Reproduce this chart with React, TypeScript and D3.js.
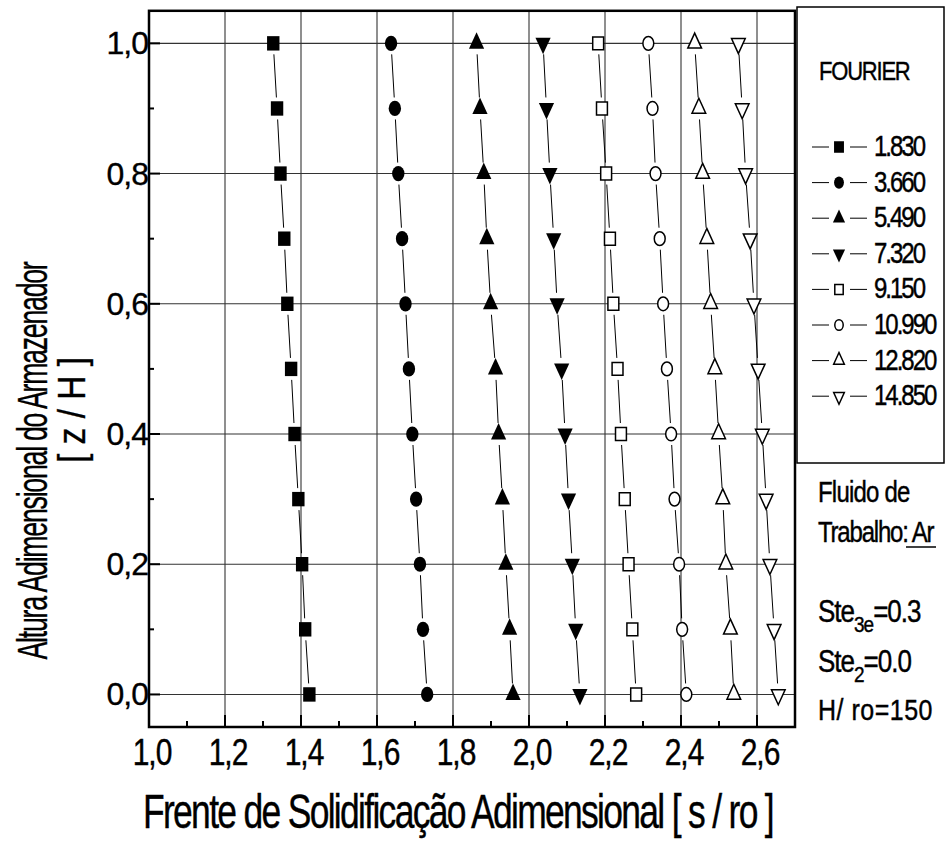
import React from 'react';
import * as d3 from 'd3';

// z / H levels where the front was evaluated
const heights = [0, 0.1, 0.2, 0.3, 0.4, 0.5, 0.6, 0.7, 0.8, 0.9, 1.0];

// Fourier numbers (legend labels)
const fourierLabels = ['1.830', '3.660', '5.490', '7.320', '9.150', '10.990', '12.820', '14.850'];

// s / ro for each Fourier number, ordered from z/H = 0 to z/H = 1
const fo1830 = [1.422, 1.411, 1.403, 1.393, 1.383, 1.374, 1.364, 1.356, 1.346, 1.337, 1.327];
const fo3660 = [1.732, 1.721, 1.713, 1.703, 1.693, 1.684, 1.675, 1.666, 1.656, 1.647, 1.637];
const fo5490 = [1.958, 1.949, 1.939, 1.930, 1.920, 1.912, 1.899, 1.889, 1.881, 1.871, 1.862];
const fo7320 = [2.134, 2.123, 2.114, 2.104, 2.095, 2.086, 2.074, 2.065, 2.055, 2.046, 2.037];
const fo9150 = [2.282, 2.272, 2.262, 2.252, 2.242, 2.233, 2.222, 2.213, 2.203, 2.192, 2.182];
const fo10990 = [2.414, 2.403, 2.395, 2.383, 2.374, 2.363, 2.353, 2.344, 2.333, 2.325, 2.314];
const fo12820 = [2.539, 2.530, 2.518, 2.510, 2.499, 2.489, 2.478, 2.468, 2.457, 2.447, 2.436];
const fo14850 = [2.656, 2.645, 2.634, 2.624, 2.614, 2.603, 2.592, 2.582, 2.570, 2.561, 2.551];

const seriesValues = [fo1830, fo3660, fo5490, fo7320, fo9150, fo10990, fo12820, fo14850];
const markerShapes = ['square', 'circle', 'triUp', 'triDown', 'square', 'circle', 'triUp', 'triDown'];
const markerFilled = [true, true, true, true, false, false, false, false];

const xTicks = [1.0, 1.2, 1.4, 1.6, 1.8, 2.0, 2.2, 2.4, 2.6];
const xMinor = [1.1, 1.3, 1.5, 1.7, 1.9, 2.1, 2.3, 2.5];
const yTicks = [0.0, 0.2, 0.4, 0.6, 0.8, 1.0];
const yMinor = [0.1, 0.3, 0.5, 0.7, 0.9];

const FONT = '"Liberation Sans", Arial, Helvetica, sans-serif';
const fmt = (v: number) => v.toFixed(1).replace('.', ',');

function Marker({ shape, filled, cx, cy, k = 1 }: any) {
  const fill = filled ? '#000' : '#fff';
  const sw = filled ? 0 : 1.5;
  const o = filled ? 0 : 0.75;
  if (shape === 'circle') {
    return <ellipse cx={cx} cy={cy} rx={6.2 * k - o} ry={7.6 * k - o} fill={fill} stroke="#000" strokeWidth={sw} />;
  }
  let d = '';
  if (shape === 'square') {
    const w = 6.2 * k - o, h = 7.2 * k - o;
    d = `M${cx - w},${cy - h}H${cx + w}V${cy + h}H${cx - w}Z`;
  } else if (shape === 'triUp') {
    d = `M${cx},${cy - 11 * k + o}L${cx + 7.6 * k - o},${cy + 5.5 * k - o}L${cx - 7.6 * k + o},${cy + 5.5 * k - o}Z`;
  } else {
    d = `M${cx},${cy + 11 * k - o}L${cx + 7.6 * k - o},${cy - 5.5 * k + o}L${cx - 7.6 * k + o},${cy - 5.5 * k + o}Z`;
  }
  return <path d={d} fill={fill} stroke="#000" strokeWidth={sw} strokeLinejoin="miter" />;
}

export default function App() {
  const left = 149, right = 795, top = 10.8, bottom = 727;
  const x = d3.scaleLinear().domain([1.0, 2.7]).range([left, right]);
  const y = d3.scaleLinear().domain([-0.05, 1.05]).range([bottom, top]);
  const gap = 11;

  // connecting segments with a gap around each marker
  const segments: any[] = [];
  seriesValues.forEach((vals, si) => {
    for (let i = 0; i < vals.length - 1; i++) {
      const x1 = x(vals[i]), y1 = y(heights[i]);
      const x2 = x(vals[i + 1]), y2 = y(heights[i + 1]);
      const len = Math.hypot(x2 - x1, y2 - y1);
      const ux = (x2 - x1) / len, uy = (y2 - y1) / len;
      segments.push(
        <line key={si + '-' + i} x1={x1 + ux * gap} y1={y1 + uy * gap} x2={x2 - ux * gap} y2={y2 - uy * gap}
          stroke="#000" strokeWidth={1} />
      );
    }
  });

  const legendX = 839;
  const legendY0 = 147;
  const legendStep = 35.6;

  const stretch = (tx: number, ty: number) => `translate(${tx},${ty}) scale(1,1.2)`;
  const heavy = { stroke: '#000', strokeWidth: 0.35 };

  return (
    <svg width={946} height={842} style={{ position: 'absolute', left: 0, top: 0, background: '#fff' }}
      fontFamily={FONT}>
      <rect x={0} y={0} width={946} height={842} fill="#fff" />

      {/* grid */}
      {xTicks.filter(t => t > 1.0).map(t => (
        <line key={'gx' + t} x1={x(t)} x2={x(t)} y1={top} y2={bottom} stroke="#333" strokeWidth={1.1} />
      ))}
      {yTicks.map(t => (
        <line key={'gy' + t} x1={left} x2={right} y1={y(t)} y2={y(t)} stroke="#333" strokeWidth={1.1} />
      ))}

      {/* ticks */}
      {xTicks.map(t => (
        <line key={'tx' + t} x1={x(t)} x2={x(t)} y1={bottom} y2={bottom - 12} stroke="#000" strokeWidth={2} />
      ))}
      {xMinor.map(t => (
        <line key={'mx' + t} x1={x(t)} x2={x(t)} y1={bottom} y2={bottom - 6} stroke="#000" strokeWidth={2} />
      ))}
      {yTicks.map(t => (
        <line key={'ty' + t} x1={left} x2={left + 11} y1={y(t)} y2={y(t)} stroke="#000" strokeWidth={2} />
      ))}
      {yMinor.map(t => (
        <line key={'my' + t} x1={left} x2={left + 5} y1={y(t)} y2={y(t)} stroke="#000" strokeWidth={2} />
      ))}

      {/* series */}
      {segments}
      {seriesValues.map((vals, si) =>
        vals.map((v, i) => (
          <Marker key={si + 'm' + i} shape={markerShapes[si]} filled={markerFilled[si]} cx={x(v)} cy={y(heights[i])} />
        ))
      )}

      {/* frame */}
      <rect x={left} y={top} width={right - left} height={bottom - top} fill="none" stroke="#000" strokeWidth={2.5} />

      {/* tick labels */}
      {xTicks.map(t => (
        <text key={'lx' + t} transform={stretch(x(t) + 3, 765)} textAnchor="middle" fontSize={30} letterSpacing={-1}
          {...heavy}>
          {fmt(t)}
        </text>
      ))}
      {yTicks.map(t => (
        <text key={'ly' + t} x={148} y={y(t) + 11} textAnchor="end" fontSize={32} letterSpacing={-1} {...heavy}>
          {fmt(t)}
        </text>
      ))}

      {/* axis titles */}
      <text transform={`translate(143,828) scale(1,1.15)`} fontSize={42} letterSpacing={-2}
        textLength={630} lengthAdjust="spacingAndGlyphs" {...heavy}>
        Frente de Solidificação Adimensional [ s / ro ]
      </text>
      <text transform={`translate(47,461) rotate(-90)`} textAnchor="middle" fontSize={43} letterSpacing={-2}
        textLength={397} lengthAdjust="spacingAndGlyphs" {...heavy}>
        Altura Adimensional do Armazenador
      </text>
      <text transform={`translate(85,410) rotate(-90)`} textAnchor="middle" fontSize={39}
        textLength={106} lengthAdjust="spacingAndGlyphs" {...heavy}>
        [ z / H ]
      </text>

      {/* legend */}
      <rect x={797} y={7} width={147} height={456} fill="#fff" stroke="#000" strokeWidth={1.5} />
      <text transform={stretch(819, 80)} fontSize={22} letterSpacing={-1.2} {...heavy}>FOURIER</text>
      {fourierLabels.map((lab, i) => {
        const cy = legendY0 + i * legendStep;
        return (
          <g key={'lg' + i}>
            <line x1={812} x2={829} y1={cy} y2={cy} stroke="#000" strokeWidth={1} />
            <line x1={850} x2={867} y1={cy} y2={cy} stroke="#000" strokeWidth={1} />
            <Marker shape={markerShapes[i]} filled={markerFilled[i]} cx={legendX} cy={cy} k={0.8} />
            <text transform={stretch(874, cy + 9)} fontSize={24} letterSpacing={-2} {...heavy}>{lab}</text>
          </g>
        );
      })}

      {/* annotations */}
      <text transform={stretch(818, 502)} fontSize={24} letterSpacing={-0.8} {...heavy}>Fluido de</text>
      <text transform={stretch(818, 542)} fontSize={24} letterSpacing={-1.2} {...heavy}>Trabalho: Ar</text>
      <line x1={906} x2={936} y1={547} y2={547} stroke="#000" strokeWidth={1.5} />
      <text transform={stretch(818, 622)} fontSize={26} letterSpacing={-1} {...heavy}>
        Ste<tspan fontSize={19} dy={8}>3e</tspan><tspan dy={-8}>=0.3</tspan>
      </text>
      <text transform={stretch(818, 672)} fontSize={26} letterSpacing={-1} {...heavy}>
        Ste<tspan fontSize={19} dy={8}>2</tspan><tspan dy={-8}>=0.0</tspan>
      </text>
      <text transform={stretch(818, 720)} fontSize={25} letterSpacing={0.5} {...heavy}>H/ ro=150</text>
    </svg>
  );
}
